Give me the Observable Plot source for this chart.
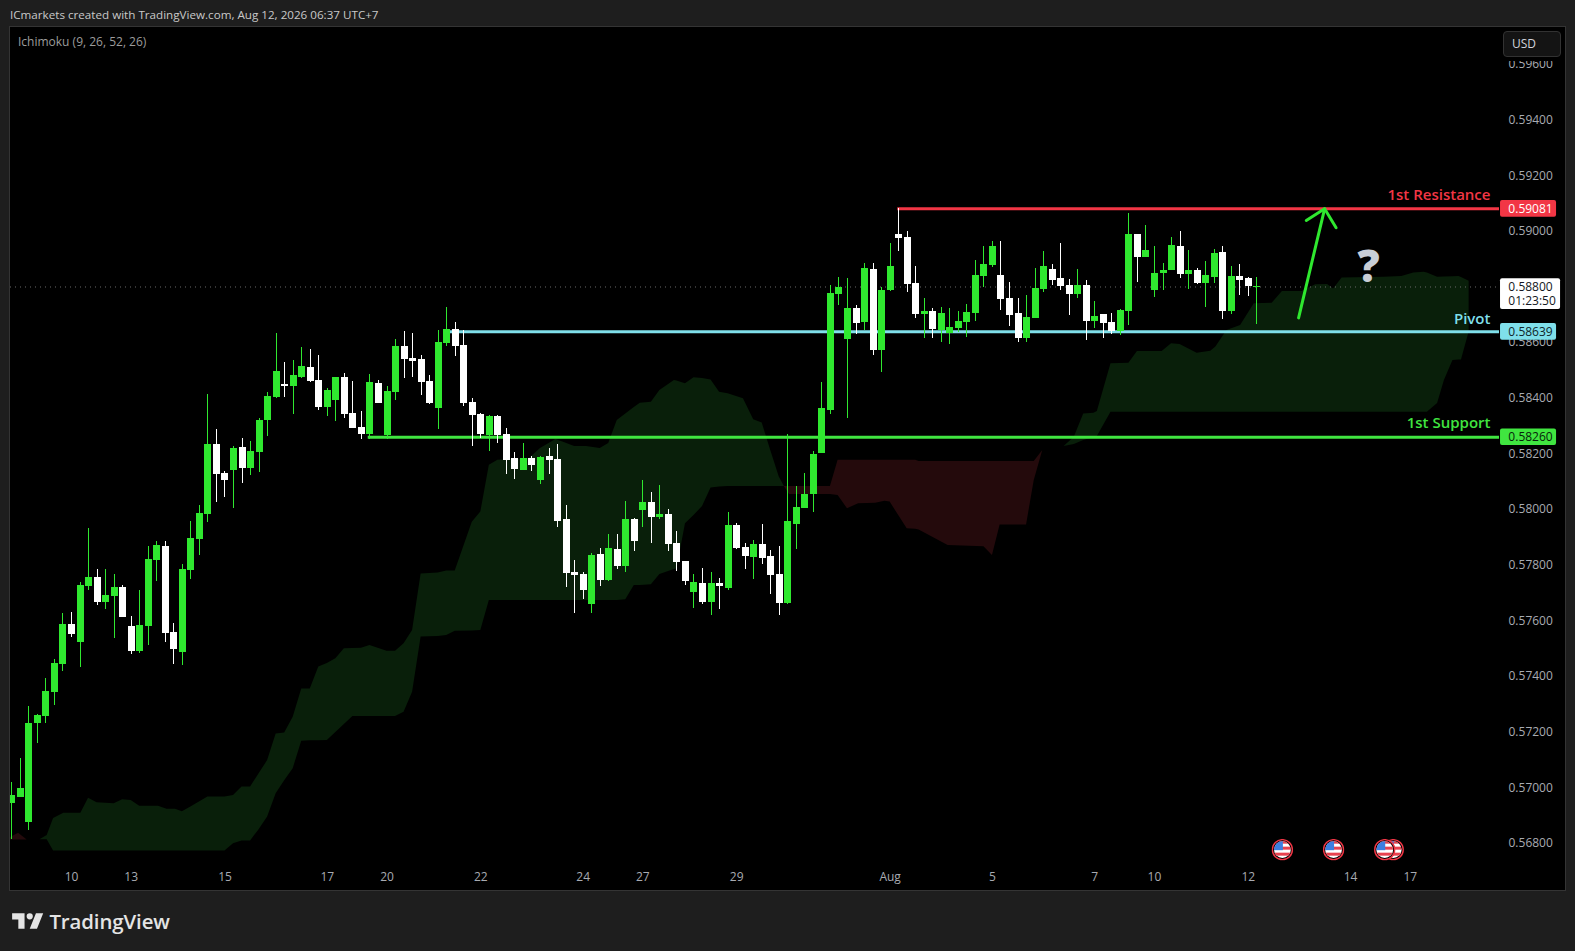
<!DOCTYPE html>
<html>
<head>
<meta charset="utf-8">
<script src="https://cdn.jsdelivr.net/npm/d3@7"></script>
<script src="https://cdn.jsdelivr.net/npm/@observablehq/plot@0.6"></script>
<style>
html,body{margin:0;padding:0;background:#1e1e1e;width:1575px;height:951px;overflow:hidden;font-family:"Open Sans",sans-serif}
#page{position:relative;width:1575px;height:951px}
#head{position:absolute;left:10px;top:6px;font-size:11.65px;line-height:17px;color:#c9c9c9;white-space:nowrap}
#chart{position:absolute;left:10px;top:27px;width:1555px;height:863px;outline:1px solid #343434}
#chart svg{display:block}
#legend{position:absolute;left:18px;top:33px;font-size:12px;line-height:17px;color:#9c9c9c;white-space:nowrap}
#usdback{position:absolute;left:1500px;top:28px;width:64px;height:33px;background:#000}
#usd{position:absolute;left:1503px;top:31px;width:58px;height:26px;box-sizing:border-box;background:#141414;border:1px solid #323232;border-radius:4px;color:#d1d4dc;font-size:12px;line-height:24px;padding-left:8px}
#foot{position:absolute;left:10px;top:906px;height:30px;display:flex;align-items:center}
#foot span{margin-left:2px;font-size:20.4px;font-weight:600;color:#e4e4e4;letter-spacing:-.1px;line-height:24px}
</style>
</head>
<body>
<div id="page">
  <div id="head">ICmarkets created with TradingView.com, Aug 12, 2026 06:37 UTC+7</div>
  <div id="chart"></div>
  <div id="legend">Ichimoku (9, 26, 52, 26)</div>
  <div id="usdback"></div>
  <div id="usd">USD</div>
  <div id="foot">
    <svg width="37.4" height="29" viewBox="0 0 36 28"><path fill="#e4e4e4" d="M14 6H2v6h6v9h6V6Zm12 15h-7l6-15h7l-6 15Zm-7-9a3 3 0 1 0 0-6 3 3 0 0 0 0 6Z"/></svg>
    <span>TradingView</span>
  </div>
</div>
<script>
// Prices are stored in units of 0.00001.
const high = [
57019,57106,57292,57264,57393,57461,57627,57630,57738,57932,
57785,57785,57767,57727,57616,57709,57868,57885,57885,57591,
57803,57957,58015,58414,58288,58137,58227,58256,58245,58327,
58421,58633,58529,58536,58583,58575,58554,58435,58475,58489,
58460,58352,58486,58464,58443,58611,58640,58633,58554,58482,
58644,58726,58672,58644,58399,58345,58338,58338,58292,58205,
58238,58191,58191,58220,58234,58015,57817,57774,57842,57860,
57910,57910,58029,57968,58105,58061,58087,58000,57921,57814,
57767,57788,57774,57752,57990,57950,57878,57889,57947,57853,
57868,58270,58083,58130,58209,58457,58805,58834,58830,58734,
58884,58884,58798,58956,59082,58999,58874,58759,58723,58726,
58723,58712,58737,58895,58945,58963,58963,58816,58759,58769,
58866,58928,58881,58956,58827,58863,58823,58748,58701,58705,
58719,59064,58989,59021,58945,58884,58978,58999,58931,58866,
58892,58935,58945,58874,58881,58834,58834];
const low = [
56815,56965,56847,57160,57231,57296,57418,57540,57433,57709,
57655,57641,57537,57612,57479,57483,57512,57742,57522,57443,
57440,57749,57835,57953,58026,58044,58004,58094,58123,58133,
58263,58399,58403,58342,58471,58457,58356,58335,58317,58327,
58292,58252,58252,58381,58252,58392,58471,58475,58410,58378,
58288,58586,58550,58370,58227,58256,58209,58238,58126,58108,
58141,58137,58090,58126,57936,57720,57627,57677,57627,57724,
57742,57785,57774,57849,57936,57878,57965,57849,57778,57727,
57645,57659,57619,57641,57709,57857,57785,57749,57803,57695,
57619,57659,57857,58004,57990,58202,58342,58734,58327,58629,
58644,58554,58493,58784,58928,58780,58687,58615,58615,58601,
58593,58637,58619,58676,58798,58870,58716,58658,58601,58601,
58687,58780,58805,58787,58698,58759,58608,58651,58615,58629,
58626,58662,58816,58906,58762,58787,58859,58830,58791,58809,
58726,58813,58683,58701,58769,58766,58665];
const open = [
56945,56967,56877,57231,57257,57343,57443,57587,57522,57724,
57756,57666,57688,57720,57580,57490,57580,57817,57868,57558,
57486,57781,57893,57982,58234,58130,58141,58223,58148,58205,
58320,58403,58450,58443,58475,58511,58464,58367,58392,58475,
58345,58295,58270,58453,58266,58421,58586,58543,58539,58460,
58363,58597,58647,58590,58385,58342,58266,58335,58270,58184,
58141,58184,58105,58191,58180,57965,57774,57767,57659,57839,
57745,57857,57796,57965,57997,58026,57972,57982,57878,57814,
57702,57734,57666,57734,57716,57943,57864,57828,57875,57832,
57767,57663,57947,58004,58054,58202,58356,58773,58611,58723,
58672,58863,58572,58787,58989,58978,58813,58701,58712,58644,
58633,58651,58672,58705,58838,58877,58841,58759,58705,58615,
58687,58791,58863,58830,58805,58773,58805,58676,58701,58672,
58640,58712,58989,58906,58787,58848,58859,58945,58845,58859,
58813,58834,58924,58712,58838,58830,58798];
const close = [
56973,56998,57231,57260,57346,57447,57587,57551,57727,57756,
57666,57691,57720,57612,57490,57584,57821,57871,57555,57497,
57785,57896,57986,58234,58126,58105,58220,58148,58209,58320,
58406,58496,58443,58482,58514,58460,58367,58428,58475,58342,
58292,58270,58457,58381,58425,58586,58539,58532,58457,58381,
58601,58647,58586,58381,58338,58270,58335,58266,58176,58144,
58184,58159,58187,58176,57957,57770,57763,57709,57835,57745,
57860,57796,57965,57885,58026,57972,57982,57875,57810,57742,
57738,57666,57734,57724,57943,57860,57832,57875,57824,57763,
57663,57957,58008,58054,58198,58363,58777,58798,58723,58669,
58866,58572,58787,58874,58974,58809,58701,58712,58647,58705,
58654,58676,58708,58841,58881,58945,58755,58698,58615,58690,
58795,58874,58823,58802,58773,58805,58676,58694,58669,58640,
58716,58989,58906,58931,58848,58859,58949,58845,58859,58813,
58841,58920,58712,58838,58823,58802,58802];

// Ichimoku cloud outline: [bar, upper span, lower span]
const cloudGreenEarly = [
[3.3,56814,56814],[4.15,56829,56814],[4.9,56890,56773],[6.1,56909,56773],[8.1,56909,56773],[9,56963,56773],[10,56947,56773],
[12,56943,56773],[13,56957,56773],[14,56955,56773],[15,56934,56773],[17.2,56934,56773],[18.2,56923,56773],[19.2,56923,56773],
[20,56914,56773],[21,56931,56773],[23,56967,56773],[25,56967,56773],[26,56973,56799],[27,57003,56809],[28,57003,56809],
[29,57051,56850],[30,57098,56895],[31,57194,56979],[32,57197,57026],[33,57254,57069],[34,57355,57168],[35,57355,57169],
[36,57434,57169],[37,57447,57170],[38,57464,57199],[39,57500,57228],[40,57501,57257],[41,57502,57257],[42,57512,57257],
[44,57491,57257],[45,57491,57257],[46,57518,57272],[47,57566,57344],[48,57769,57542],[50,57772,57544],[51,57779,57548],
[52,57779,57563],[54,57955,57564],[55,57991,57566],[56,58159,57673],[57,58177,57673],[60.7,58184,57673],[62,58220,57673],
[63.8,58252,57673],[64.7,58242,57673],[66,58227,57673],[67.4,58227,57673],[69,58220,57673],[70,58238,57673],[71,58320,57673],
[72,58344,57676],[73,58367,57727],[73.7,58382,57727],[75,58386,57730],[76,58428,57767],[77.7,58464,57785],[78,58462,57787],
[79,58452,57949],[80,58474,57979],[81,58471,58011],[82,58466,58078],[83,58422,58081],[84,58416,58083],[85.8,58398,58083],
[87,58323,58083],[88,58311,58083],[89,58212,58083],[90,58117,58083],[90.6,58083,58083]];
const cloudGreenLate = [
[120.9,58212,58212],[123.4,58227,58227],[124.6,58260,58234],[125.7,58344,58248],[126.9,58346,58259],[127.3,58353,58263],
[128.9,58524,58350],[131,58526,58350],[132,58568,58350],[134.9,58568,58350],[136,58596,58350],[137,58593,58350],[139,58562,58350],
[140.6,58569,58350],[141.2,58584,58350],[142.5,58644,58350],[144.1,58662,58350],[145.7,58740,58350],[147.8,58742,58350],
[149,58784,58350],[151.3,58784,58350],[152.9,58808,58350],[154.3,58809,58350],[155,58793,58350],[156,58832,58350],
[160.9,58835,58350],[163,58838,58350],[164.4,58850,58350],[165.6,58853,58350],[166,58850,58350],[167.2,58835,58381],
[168,58836,58464],[169,58837,58536],[169.7,58838,58538],[170,58834,58538],[170.9,58821,58638]];
const cloudRedEarly = [[-0.15,56822,56813],[0.8,56837,56813],[1.8,56813,56813]];
const cloudRedLate = [
[90.6,58083,58083],[91.2,58083,58054],[96,58083,58054],[96.9,58177,58051],[98,58177,58003],[99.3,58177,58021],[101.3,58177,58023],
[102.4,58177,58030],[103,58177,58027],[105,58177,57931],[106,58177,57929],[106.4,58173,57927],[109.8,58173,57871],[114,58173,57867],
[115,58173,57835],[115.9,58173,57945],[119,58173,57945],[119.9,58173,58105],[120.9,58212,58212]];

// 0.58800 is shown in the last-price box instead of on the axis.
const yTicks = [56800,57000,57200,57400,57600,57800,58000,58200,58400,58600,59000,59200,59400,59600];
const xTickBars = [7,14,25,37,44,55,67,74,85,103,115,127,134,145,157,164];
const xTickLabels = ["10","13","15","17","20","22","24","27","29","Aug","5","7","10","12","14","17"];

const levelName = ["1st Resistance","Pivot","1st Support"];
const levelPrice = [59081,58639,58260];
const levelStart = [103.9,51.4,41.8];
const levelColor = ["#f23645","#7fdfea","#40e540"];
const levelLabelPrice = [59129,58686,58311];
const levelTagText = ["#ffffff","#10262a","#07230a"];

const lastPrice = 58800;
const lastPriceTexts = ["0.58800","01:23:50"];
const lastPriceTextAt = [58798,58749];
const arrowShaft = [[150.9,58689],[153.95,59081]];
const arrowHead = [[151.8,59039],[153.95,59081],[155.3,59013]];
const questionMark = [[159.1,58867]];
const usEvents = [149,155,162,161];
const eventPrice = 56778;

// ---- layout constants
const GREEN = "#2fe82f", WHITE = "#ffffff";
const W = 1555, H = 863, FONT = '"Open Sans",sans-serif';
const rows = a => a.map(([x,top,bot]) => ({x,top,bot}));
const candles = d3.range(high.length).map(i => ({i, open:open[i], high:high[i], low:low[i], close:close[i]}));
const levels = levelName.map((name,k) => ({name, price:levelPrice[k], start:levelStart[k], color:levelColor[k], labelAt:levelLabelPrice[k], tagText:levelTagText[k]}));
const fmt = v => (v/1e5).toFixed(5);

const flag = "data:image/svg+xml," + encodeURIComponent(`<svg xmlns="http://www.w3.org/2000/svg" viewBox="0 0 22 22"><defs><clipPath id="c"><circle cx="11" cy="11" r="8.4"/></clipPath></defs><circle cx="11" cy="11" r="10" fill="#000" stroke="#f23645" stroke-width="1.4"/><g clip-path="url(#c)"><rect width="22" height="22" fill="#fff"/><rect y="2" width="22" height="3" fill="#e8424f"/><rect y="8" width="22" height="3" fill="#e8424f"/><rect y="14" width="22" height="3" fill="#e8424f"/><rect y="2" width="11.5" height="9.5" fill="#3d7fe0"/></g></svg>`);

const tagX1 = 174.58, tagX2 = 181.15, lastX2 = 181.62, tagTextX = 175.5, tagHalf = 30, labelRight = 173.4, lineEnd = 174.46;

const chart = Plot.plot({
  width: W, height: H,
  marginLeft: 0, marginRight: 66, marginTop: 0, marginBottom: 27,
  style: {background:"#000", fontFamily:FONT, fontSize:"12px", color:"#a8abb2"},
  x: {domain:[-0.1525,174.46], axis:null},
  y: {domain:[56728.3,59732.5], axis:null},
  marks: [
    Plot.area(rows(cloudGreenEarly), {x1:"x", y1:"top", y2:"bot", fill:"#091f0a"}),
    Plot.area(rows(cloudGreenLate),  {x1:"x", y1:"top", y2:"bot", fill:"#091f0a"}),
    Plot.area(rows(cloudRedEarly),   {x1:"x", y1:"top", y2:"bot", fill:"#240a0c"}),
    Plot.area(rows(cloudRedLate),    {x1:"x", y1:"top", y2:"bot", fill:"#240a0c"}),
    Plot.ruleY([lastPrice], {stroke:"#6a6a6a", strokeDasharray:"1 4", strokeWidth:1}),
    Plot.axisX(xTickBars, {anchor:"bottom", tickSize:0, tickPadding:9, fontSize:12, fill:"#a8abb2", label:null, tickFormat:d => xTickLabels[xTickBars.indexOf(d)]}),
    Plot.axisY(yTicks, {anchor:"right", tickSize:0, tickPadding:9, fontSize:12, fill:"#a8abb2", label:null, tickFormat:fmt}),
    Plot.ruleY(levels, {y:"price", x1:"start", x2:() => lineEnd, stroke:"color", strokeWidth:3}),
    Plot.ruleX(candles, {x:"i", y1:"low", y2:"high", stroke:d => d.close>=d.open?GREEN:WHITE, strokeWidth:1, shapeRendering:"crispEdges"}),
    Plot.ruleX(candles, {x:"i", y1:"open", y2:"close", stroke:d => d.close>=d.open?GREEN:WHITE, strokeWidth:7, shapeRendering:"crispEdges"}),
    Plot.line(arrowShaft, {stroke:"#2fe82f", strokeWidth:3, strokeLinecap:"round"}),
    Plot.line(arrowHead, {stroke:"#2fe82f", strokeWidth:3, strokeLinecap:"round", strokeLinejoin:"round"}),
    Plot.text(questionMark, {text:() => "?", fontSize:44, fontWeight:800, fill:"#c9ced6"}),
    Plot.text(levels, {x:() => labelRight, y:"labelAt", text:"name", textAnchor:"end", fontSize:15, fontWeight:600, fill:"color", style:"letter-spacing:.65px"}),
    Plot.rect(levels, {x1:() => tagX1, x2:() => tagX2, y1:d => d.price-tagHalf, y2:d => d.price+tagHalf, fill:"color", rx:2}),
    Plot.text(levels, {x:() => tagTextX, y:"price", text:d => fmt(d.price), textAnchor:"start", fontSize:12, fill:"tagText"}),
    Plot.rect([lastPrice], {x1:() => tagX1, x2:() => lastX2, y1:() => 58719, y2:() => 58830, fill:"#ffffff", rx:2}),
    Plot.text(lastPriceTexts, {x:() => tagTextX, y:(d,i) => lastPriceTextAt[i], text:d => d, textAnchor:"start", fontSize:12, fill:"#131722"}),
    Plot.image(usEvents, {x:d => d, y:() => eventPrice, width:22, height:22, src:() => flag})
  ]
});
document.getElementById("chart").appendChild(chart);
</script>
</body>
</html>
